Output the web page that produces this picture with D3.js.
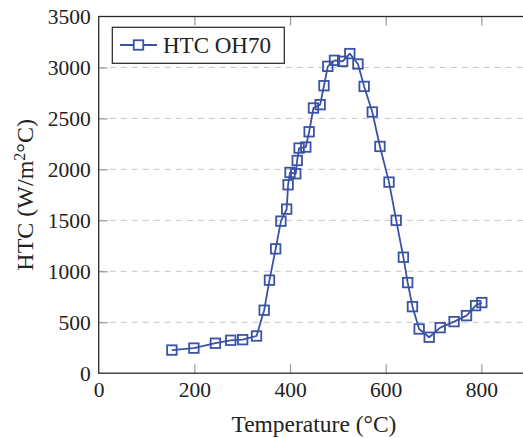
<!DOCTYPE html>
<html>
<head>
<meta charset="utf-8">
<script src="https://cdn.jsdelivr.net/npm/d3@7"></script>
<style>
  body { margin: 0; background: #fff; }
  svg { display: block; }
  text { font-family: "Liberation Serif", "Times New Roman", serif; fill: #222; }
</style>
</head>
<body>
<svg id="chart" width="523" height="438"></svg>
<script>
// Heat transfer coefficient vs. temperature
const temperature = [153, 199, 244, 276, 301, 330, 346, 357, 370, 381, 393, 396, 400, 412, 415, 419, 433, 440, 449, 463, 471, 479, 493, 510, 525, 542, 555, 572, 588, 607, 622, 637, 646, 656, 670, 691, 714, 743, 769, 788, 801];
const htc = [227, 246, 294, 323, 329, 365, 618, 913, 1220, 1492, 1610, 1849, 1970, 1957, 2087, 2209, 2219, 2369, 2602, 2635, 2821, 3011, 3070, 3060, 3136, 3034, 2814, 2563, 2225, 1875, 1500, 1138, 889, 653, 434, 353, 447, 506, 565, 663, 693];
const xTicks = [0, 200, 400, 600, 800];
const yTicks = [0, 500, 1000, 1500, 2000, 2500, 3000, 3500];
const gridTicks = [500, 1000, 1500, 2000, 2500, 3000];
const seriesName = "HTC OH70";

const color = "#3a53a5";
const svg = d3.select("#chart");
const plotLeft = 98.7, plotTop = 16.5, plotBottom = 373.2;
const x = d3.scaleLinear().domain([0, 900]).range([plotLeft, plotLeft + 0.4783 * 900]);
const y = d3.scaleLinear().domain([0, 3500]).range([plotBottom, plotTop]);
const plotRight = x.range()[1];

// dashed horizontal grid
svg.append("g").selectAll("line").data(gridTicks).join("line")
  .attr("x1", plotLeft).attr("x2", plotRight)
  .attr("y1", d => y(d)).attr("y2", d => y(d))
  .attr("stroke", "#c4c4c4").attr("stroke-width", 1)
  .attr("stroke-dasharray", "6,5");

const tickLen = 9;
function styleAxis(g, showLabels) {
  g.select(".domain").remove();
  g.selectAll(".tick line").attr("stroke", "#9a9a9a").attr("stroke-width", 1.2);
  g.selectAll(".tick text").attr("font-size", "21.5px")
    .attr("font-family", "Liberation Serif, serif").attr("fill", "#222");
  if (!showLabels) g.selectAll(".tick text").remove();
}

svg.append("g").attr("transform", `translate(0,${plotBottom})`)
  .call(d3.axisBottom(x).tickValues(xTicks).tickSize(-tickLen).tickPadding(9).tickFormat(d3.format("d")))
  .call(g => styleAxis(g, true))
  .call(g => g.selectAll(".tick").filter(d => d === 0).select("line").remove());
svg.append("g").attr("transform", `translate(0,${plotTop})`)
  .call(d3.axisTop(x).tickValues(xTicks).tickSize(-tickLen))
  .call(g => styleAxis(g, false))
  .call(g => g.selectAll(".tick").filter(d => d === 0).select("line").remove());
svg.append("g").attr("transform", `translate(${plotLeft},0)`)
  .call(d3.axisLeft(y).tickValues(yTicks).tickSize(-tickLen).tickPadding(8).tickFormat(d3.format("d")))
  .call(g => styleAxis(g, true))
  .call(g => g.selectAll(".tick").filter(d => d === 0 || d === 3500).select("line").remove());

// frame
svg.append("rect")
  .attr("x", plotLeft).attr("y", plotTop)
  .attr("width", plotRight - plotLeft).attr("height", plotBottom - plotTop)
  .attr("fill", "none").attr("stroke", "#2a2a2a").attr("stroke-width", 1.3);

// series line and markers
const pts = temperature.map((t, i) => [t, htc[i]]);
svg.append("path").datum(pts)
  .attr("fill", "none").attr("stroke", color).attr("stroke-width", 1.8)
  .attr("stroke-linejoin", "round")
  .attr("d", d3.line().x(d => x(d[0])).y(d => y(d[1])));

const m = 9.5;
svg.append("g").selectAll("rect").data(pts).join("rect")
  .attr("x", d => x(d[0]) - m / 2).attr("y", d => y(d[1]) - m / 2)
  .attr("width", m).attr("height", m)
  .attr("fill", "none").attr("stroke", color).attr("stroke-width", 1.8);

// legend
const lg = svg.append("g");
lg.append("rect").attr("x", 112.3).attr("y", 27.3).attr("width", 172).attr("height", 36)
  .attr("fill", "#fff").attr("stroke", "#222").attr("stroke-width", 1.2);
lg.append("line").attr("x1", 120).attr("x2", 157).attr("y1", 45).attr("y2", 45)
  .attr("stroke", color).attr("stroke-width", 1.8);
lg.append("rect").attr("x", 138.5 - m / 2).attr("y", 45 - m / 2).attr("width", m).attr("height", m)
  .attr("fill", "#fff").attr("stroke", color).attr("stroke-width", 1.8);
lg.append("text").attr("x", 163).attr("y", 53.3).attr("font-size", "23px").text(seriesName);

// axis titles
svg.append("text").attr("x", (plotLeft + plotRight) / 2).attr("y", 431.5)
  .attr("text-anchor", "middle").attr("font-size", "23.5px")
  .text("Temperature (°C)");
const yl = svg.append("text")
  .attr("transform", `translate(33,${(plotTop + plotBottom) / 2}) rotate(-90)`)
  .attr("text-anchor", "middle").attr("font-size", "24px");
yl.append("tspan").text("HTC (W/m");
yl.append("tspan").attr("baseline-shift", "super").attr("font-size", "16px").text("2");
yl.append("tspan").text("°C)");
</script>
</body>
</html>
